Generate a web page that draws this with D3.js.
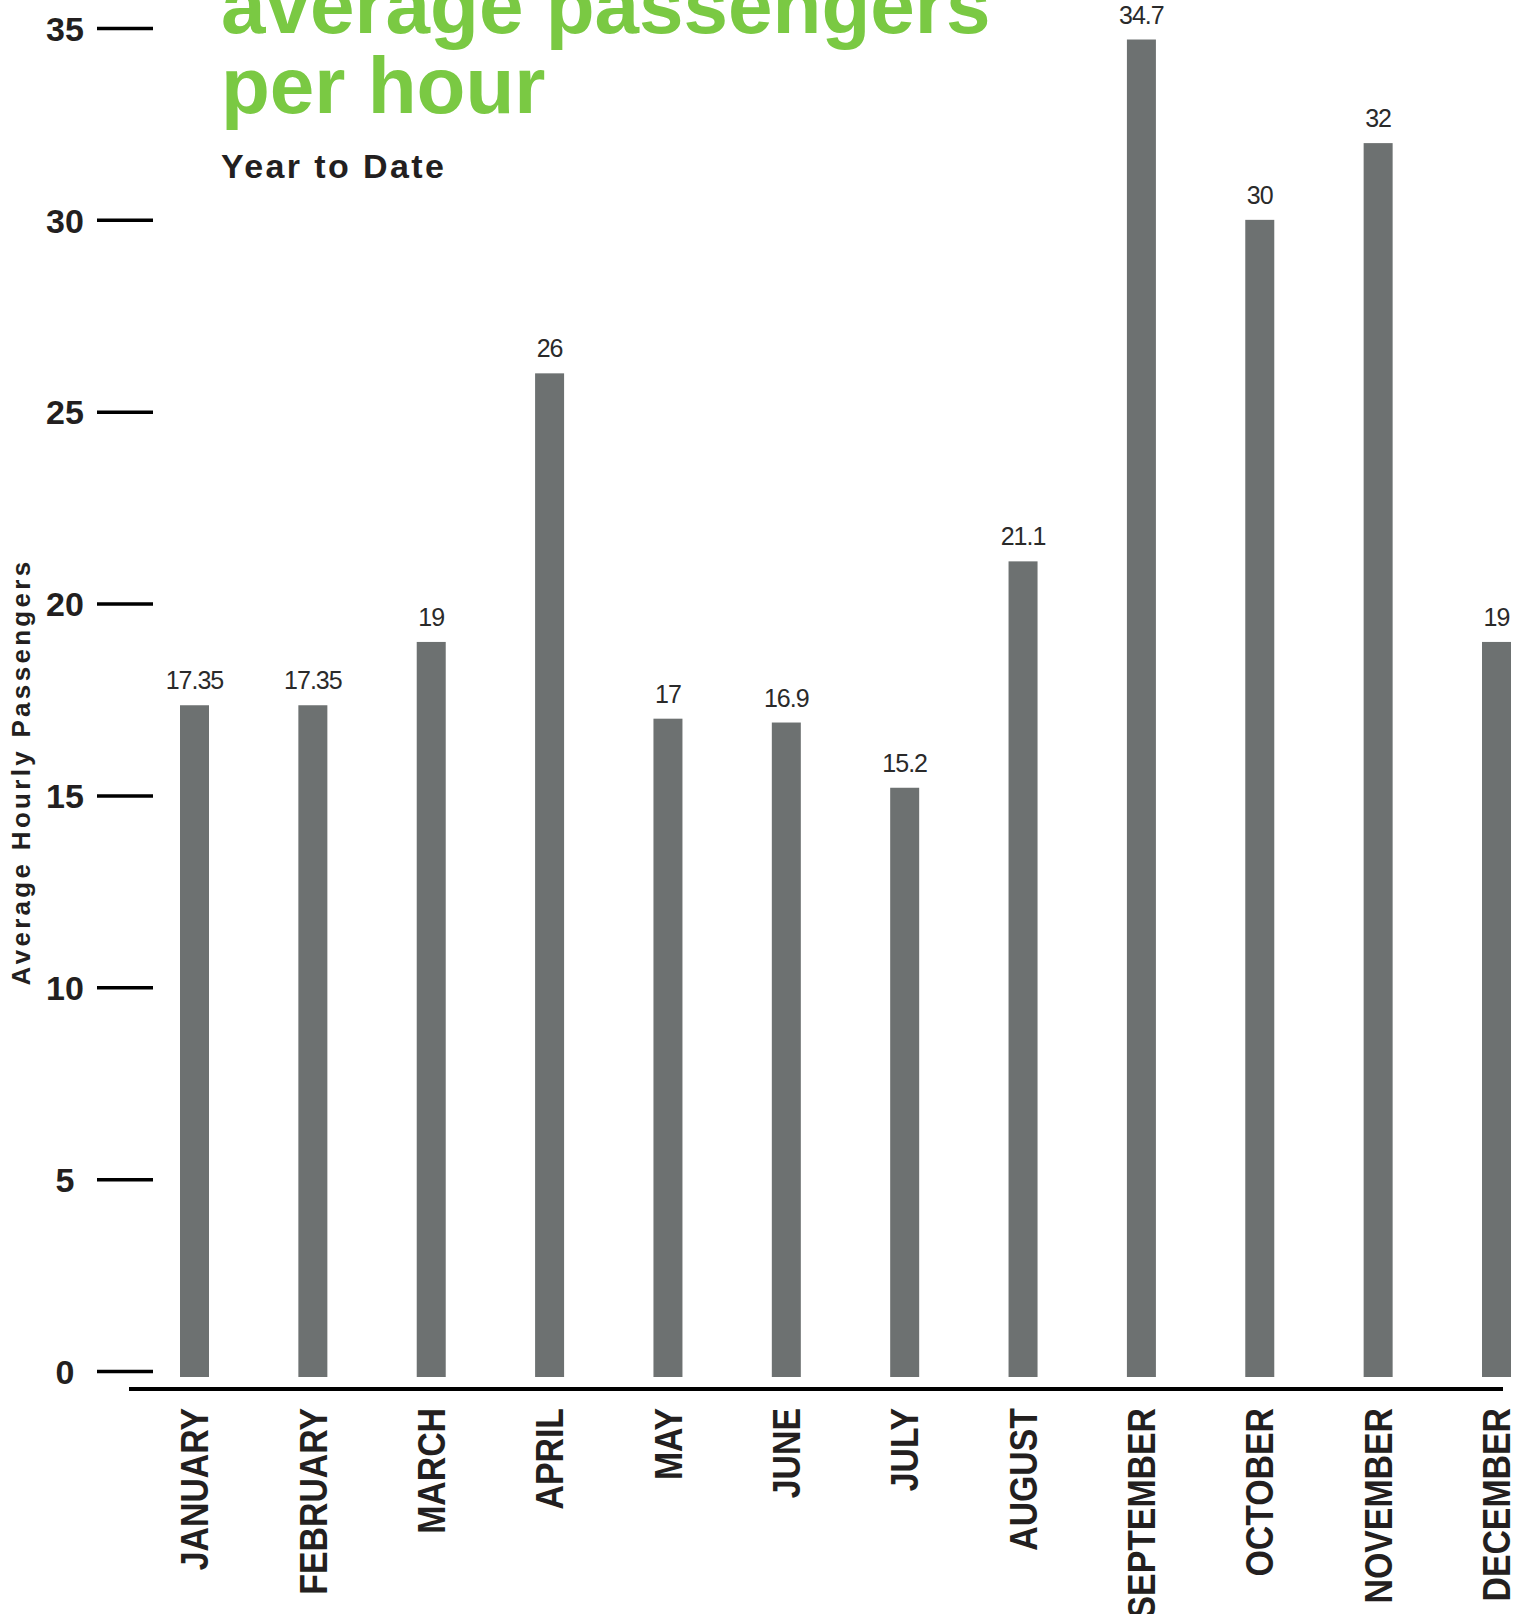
<!DOCTYPE html>
<html>
<head>
<meta charset="utf-8">
<script src="https://cdn.jsdelivr.net/npm/d3@7"></script>
<style>
  html, body { margin: 0; padding: 0; background: #fff; }
  svg { display: block; }
</style>
</head>
<body>
<svg id="chart" width="1530" height="1614"></svg>
<script>
// Monthly average passengers per hour, year to date
const months = ["JANUARY", "FEBRUARY", "MARCH", "APRIL", "MAY", "JUNE",
                "JULY", "AUGUST", "SEPTEMBER", "OCTOBER", "NOVEMBER", "DECEMBER"];
const passengers = [17.35, 17.35, 19, 26, 17, 16.9, 15.2, 21.1, 34.7, 30, 32, 19];
const yTicks = [0, 5, 10, 15, 20, 25, 30, 35];
const titleLines = ["average passengers", "per hour"];
const subtitle = "Year to Date";
const yLabel = "Average Hourly Passengers";

const svg = d3.select("#chart");
const sans = "'Liberation Sans', Arial, Helvetica, sans-serif";
const ink = "#231f20";
const green = "#7ac943";
const barFill = "#6d7171";

const y = d3.scaleLinear().domain([0, 35]).range([1371, 28]);
const x = d3.scaleBand().domain(months).range([180, 1511])
  .paddingInner(0.755).paddingOuter(0);

// Y axis: short detached dashes with centred bold numbers
const yAxis = svg.append("g")
  .attr("transform", "translate(153,0)")
  .call(d3.axisLeft(y).tickValues(yTicks).tickSize(56).tickPadding(0).tickSizeOuter(0));
yAxis.select(".domain").remove();
yAxis.selectAll(".tick line")
  .attr("stroke", "#000")
  .attr("stroke-width", 3.5);
yAxis.selectAll(".tick text")
  .attr("x", -88)
  .attr("dy", "0.36em")
  .attr("text-anchor", "middle")
  .attr("fill", ink)
  .style("font-family", sans)
  .style("font-weight", "bold")
  .style("font-size", "34px");

// Rotated y-axis title
svg.append("text")
  .attr("transform", "translate(30,772) rotate(-90)")
  .attr("text-anchor", "middle")
  .attr("fill", ink)
  .style("font-family", sans)
  .style("font-weight", "bold")
  .style("font-size", "26px")
  .style("letter-spacing", "3.3px")
  .text(yLabel);

// Bars
const rows = months.map((m, i) => ({ month: m, value: passengers[i] }));
svg.append("g").selectAll("rect")
  .data(rows)
  .join("rect")
  .attr("x", d => x(d.month))
  .attr("width", x.bandwidth())
  .attr("y", d => y(d.value))
  .attr("height", d => y(0) - y(d.value) + 6)
  .attr("fill", barFill);

// Value labels above bars
svg.append("g").selectAll("text")
  .data(rows)
  .join("text")
  .attr("x", d => x(d.month) + x.bandwidth() / 2)
  .attr("y", d => y(d.value) - 16)
  .attr("text-anchor", "middle")
  .attr("fill", "#2a2a2a")
  .style("font-family", sans)
  .style("font-size", "25px")
  .style("letter-spacing", "-1px")
  .text(d => String(d.value));

// Baseline
svg.append("line")
  .attr("x1", 129).attr("x2", 1503)
  .attr("y1", 1389).attr("y2", 1389)
  .attr("stroke", "#000")
  .attr("stroke-width", 4);

// Month labels, rotated, reading bottom-to-top
const xAxis = svg.append("g")
  .attr("transform", "translate(0,1408)")
  .call(d3.axisBottom(x).tickSize(0).tickPadding(0));
xAxis.select(".domain").remove();
xAxis.selectAll(".tick text")
  .attr("transform", "rotate(-90) scale(0.89,1)")
  .attr("x", 0)
  .attr("y", 0)
  .attr("dy", "0.36em")
  .attr("text-anchor", "end")
  .attr("fill", ink)
  .style("font-family", sans)
  .style("font-weight", "bold")
  .style("font-size", "38px");

// Title block
const title = svg.append("text")
  .attr("fill", green)
  .style("font-family", sans)
  .style("font-weight", "bold")
  .style("font-size", "80px");
titleLines.forEach((line, i) => {
  title.append("tspan")
    .attr("x", 221)
    .attr("y", 33 + i * 80)
    .text(line);
});

svg.append("text")
  .attr("x", 221)
  .attr("y", 178)
  .attr("fill", ink)
  .style("font-family", sans)
  .style("font-weight", "bold")
  .style("font-size", "34px")
  .style("letter-spacing", "2.4px")
  .text(subtitle);
</script>
</body>
</html>
